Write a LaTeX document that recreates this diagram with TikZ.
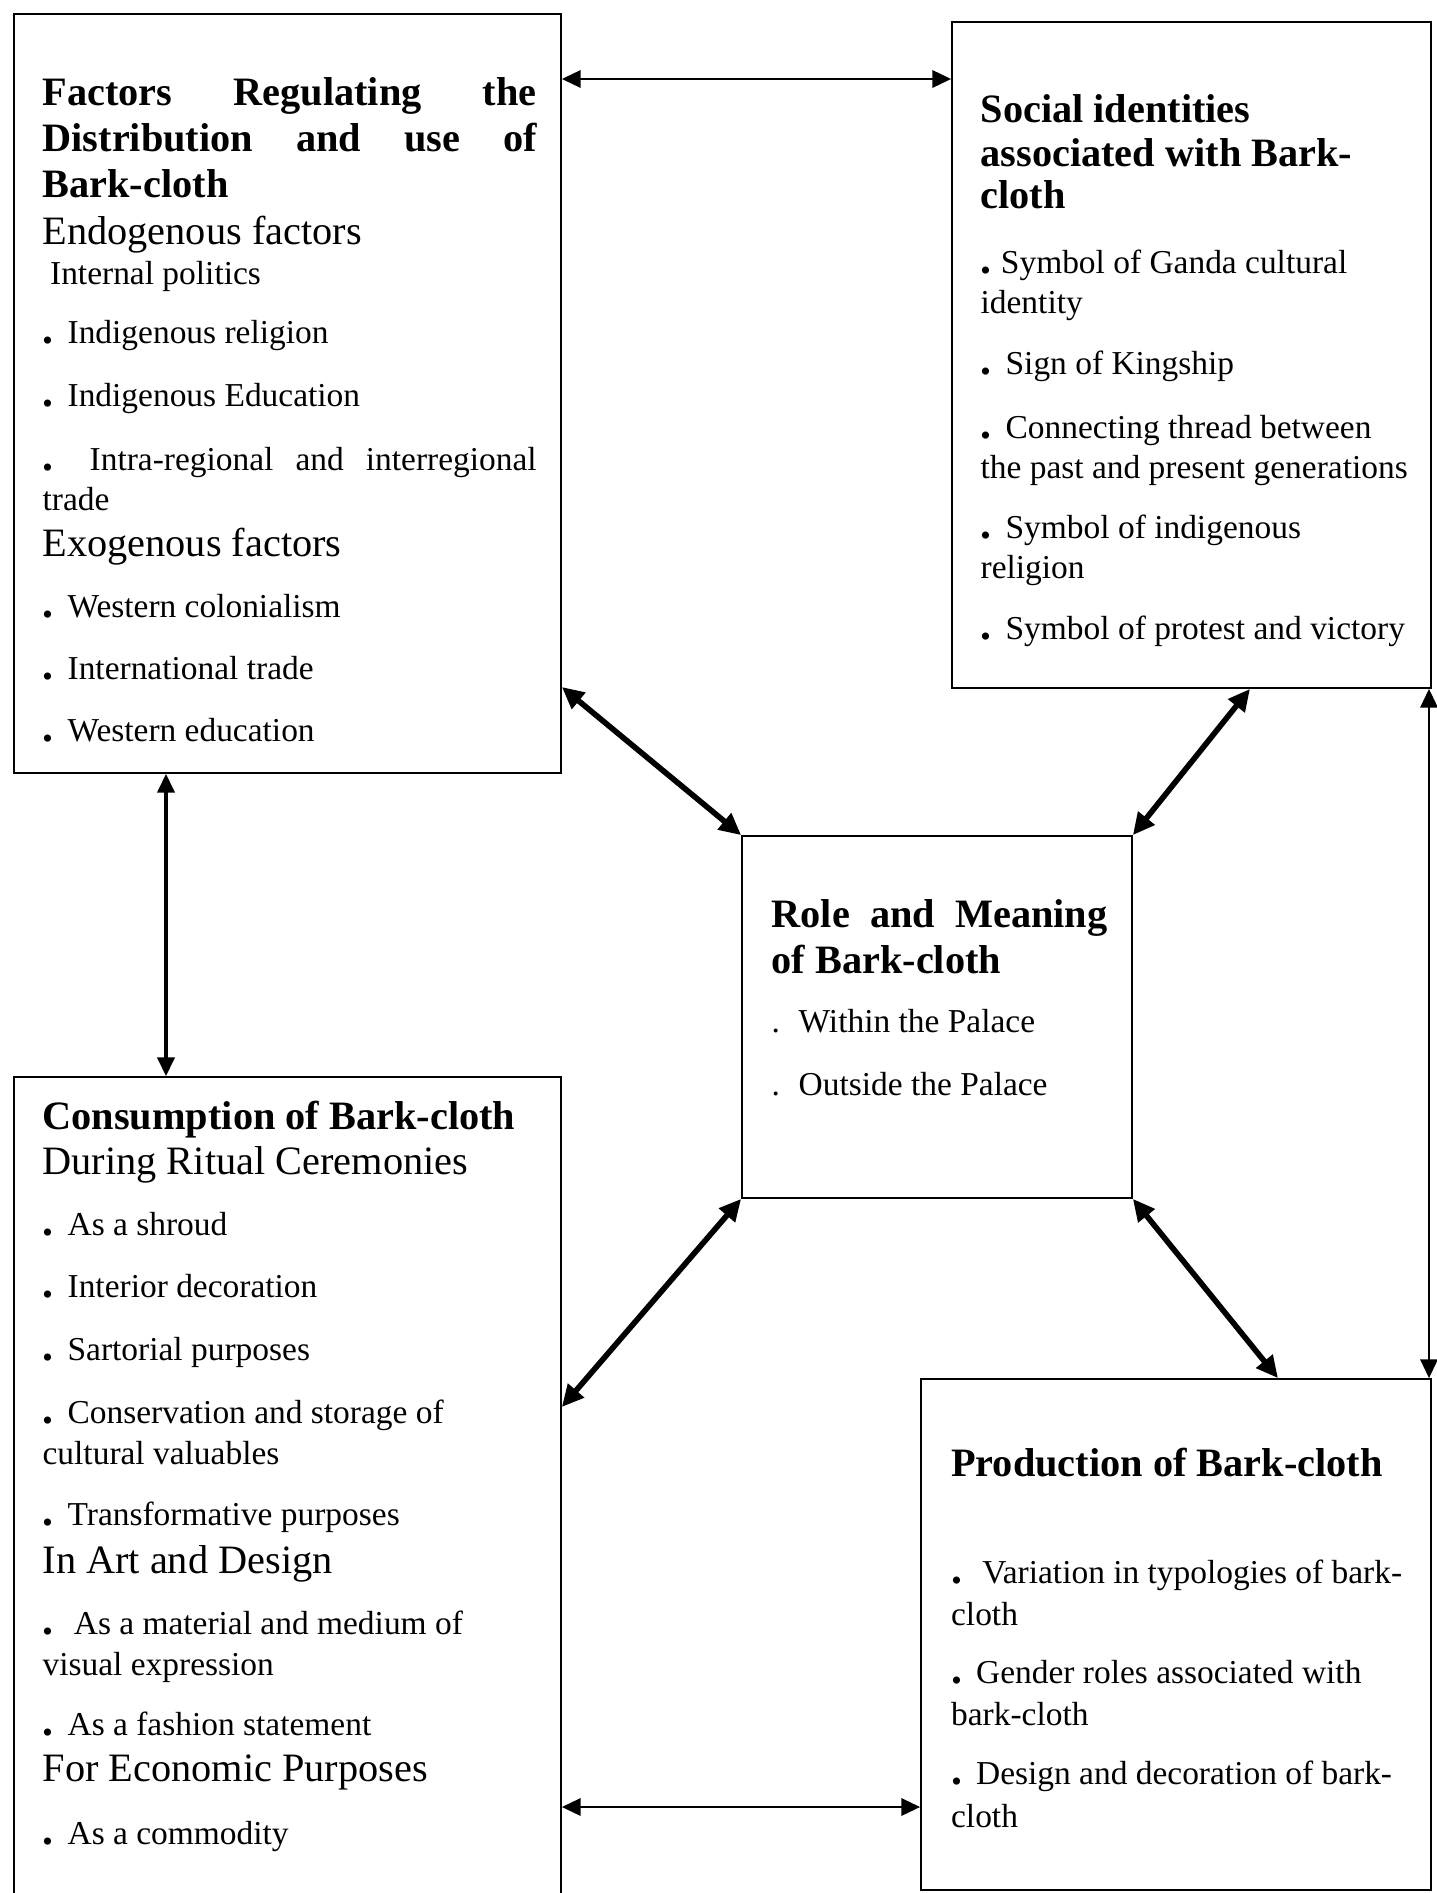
\documentclass[tikz,border=0pt]{standalone}
\usepackage{fontspec}
\setmainfont{Liberation Serif}
\usetikzlibrary{arrows.meta,fit}
\newcommand{\boxhead}[1]{{\fontsize{12.9}{12.8}\selectfont\bfseries #1}}
\newcommand{\subhead}[1]{{\fontsize{12.9}{12.8}\selectfont #1}}
\newcommand{\dotitem}[1][4.5pt]{{\fontsize{14}{12.8}\selectfont\bfseries .}\hspace{#1}}
\begin{document}
\begin{tikzpicture}[x=0.32pt,y=-0.32pt,
    box/.style={draw,line width=0.55pt,inner sep=0pt},
    txt/.style={anchor=base west,inner sep=0pt,align=flush left,font=\fontsize{10.7}{12.8}\selectfont},
    link/.style={line width=0.85pt,{Triangle[length=6pt,width=5.5pt]}-{Triangle[length=6pt,width=5.5pt]}},
    boldlink/.style={line width=1.8pt,{Triangle[length=7pt,width=6.5pt]}-{Triangle[length=7pt,width=6.5pt]}}]
  \useasboundingbox (0,0) rectangle (1437,1893);
  % boxes
  \node[box,fit={(14,14)(561,773)}] (fac) {};
  \node[box,fit={(952,22)(1431,688)}] (soc) {};
  \node[box,fit={(742,836)(1132,1198)}] (role) {};
  \node[box,fit={(14,1077)(561,1910)}] (con) {};
  \node[box,fit={(921,1379)(1431,1890)}] (pro) {};
  % texts
  \node[txt,text width=158.1pt] (facText) at (42,105.5) {%
    \boxhead{Factors\hfill Regulating\hfill the\\[1.9pt]
      Distribution\hfill and\hfill use\hfill of\\[1.9pt]
      Bark-cloth}\\[2.3pt]
    \subhead{Endogenous factors}\\
    \hspace*{2.4pt}Internal politics\\[6.2pt]
    \dotitem Indigenous religion\\[7.2pt]
    \dotitem Indigenous Education\\[7.8pt]
    \dotitem\hfill Intra-regional\hfill and\hfill interregional\\
    trade\\[1.9pt]
    \subhead{Exogenous factors}\\[6.7pt]
    \dotitem Western colonialism\\[7pt]
    \dotitem International trade\\[7pt]
    \dotitem Western education};
  \node[txt,text width=145pt] (socText) at (980,122) {%
    \boxhead{Social identities\\[1.5pt]
      associated with Bark-\\[0.7pt]
      cloth}\\[7.9pt]
    \dotitem[3pt]Symbol of Ganda cultural\\
    identity\\[6.6pt]
    \dotitem Sign of Kingship\\[7.9pt]
    \dotitem Connecting thread between\\
    the past and present generations\\[6.3pt]
    \dotitem Symbol of indigenous\\
    religion\\[6.8pt]
    \dotitem Symbol of protest and victory};
  \node[txt,text width=107.5pt] (roleText) at (771,927) {%
    \boxhead{Role\hfill and\hfill Meaning\\[2.1pt]
      of Bark-cloth}\\[5.9pt]
    .\hspace{6pt}Within the Palace\\[7.45pt]
    .\hspace{6pt}Outside the Palace};
  \node[txt,text width=158.1pt] (conText) at (42,1129) {%
    \boxhead{Consumption of Bark-cloth}\\[1.7pt]
    \subhead{During Ritual Ceremonies}\\[6.8pt]
    \dotitem As a shroud\\[7.1pt]
    \dotitem Interior decoration\\[7.3pt]
    \dotitem Sartorial purposes\\[7.3pt]
    \dotitem Conservation and storage of\\[0.3pt]
    cultural valuables\\[6.8pt]
    \dotitem Transformative purposes\\[2.5pt]
    \subhead{In Art and Design}\\[6.8pt]
    \dotitem[6.5pt]As a material and medium of\\[0.3pt]
    visual expression\\[6.4pt]
    \dotitem As a fashion statement\\[2pt]
    \subhead{For Economic Purposes}\\[7.3pt]
    \dotitem As a commodity};
  \node[txt,text width=152pt] (proText) at (950.5,1476) {%
    \boxhead{Production of Bark-cloth}\\[21.7pt]
    \dotitem[6.5pt]Variation in typologies of bark-\\[0.5pt]
    cloth\\[5.9pt]
    \dotitem Gender roles associated with\\[0.5pt]
    bark-cloth\\[6.1pt]
    \dotitem Design and decoration of bark-\\[1pt]
    cloth};
  % connectors
  \draw[link] (fac.east |- 0,79) -- (soc.west |- 0,79);
  \draw[boldlink] (fac.east |- 0,687) -- (role.north west);
  \draw[boldlink] (soc.south -| 1250,0) -- (role.north east);
  \draw[boldlink] (con.east |- 0,1407) -- (role.south west);
  \draw[boldlink] (role.south east) -- (pro.north -| 1278,0);
  \draw[link,line width=1pt] (fac.south -| 166,0) -- (con.north -| 166,0);
  \draw[link] (con.east |- 0,1807) -- (pro.west |- 0,1807);
  \draw[link] (soc.south -| 1429,0) -- (pro.north -| 1429,0);
\end{tikzpicture}
\end{document}
